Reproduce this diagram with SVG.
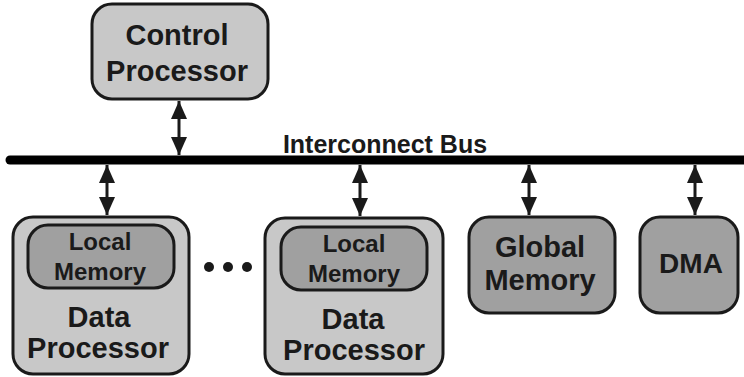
<svg xmlns="http://www.w3.org/2000/svg" width="744" height="377" viewBox="0 0 744 377">
<defs>
<marker id="ah" viewBox="0 0 18 16" refX="18" refY="8" markerWidth="18" markerHeight="16" markerUnits="userSpaceOnUse" orient="auto-start-reverse">
<path d="M0,0 L18,8 L0,16 Z" fill="#1a1a1a"/>
</marker>
</defs>
<style>
.lt{fill:#c8c8c8;stroke:#1a1a1a;stroke-width:3}
.dk{fill:#a0a0a0;stroke:#1a1a1a;stroke-width:3}
.ar{stroke:#1a1a1a;stroke-width:3;fill:none;marker-start:url(#ah);marker-end:url(#ah)}
</style>
<g id="connectors">
<line x1="10" y1="160" x2="744" y2="160" stroke="#000" stroke-width="9" stroke-linecap="round"/>
<line class="ar" x1="179" y1="101" x2="179" y2="155"/>
<line class="ar" x1="107" y1="165" x2="107" y2="215"/>
<line class="ar" x1="360" y1="165" x2="360" y2="216"/>
<line class="ar" x1="529" y1="165" x2="529" y2="215"/>
<line class="ar" x1="695" y1="165" x2="695" y2="215"/>
</g>
<g font-family="'Liberation Sans', Arial, sans-serif" font-weight="bold" fill="#1a1a1a" text-anchor="middle">
<g id="bus-label"><text x="385" y="153" font-size="25">Interconnect Bus</text></g>
<g id="control-processor">
<rect class="lt" x="92" y="4" width="176" height="95" rx="20"/>
<text font-size="29" x="177" y="45">Control</text>
<text font-size="29" x="177" y="81">Processor</text>
</g>
<g id="data-processor-1">
<rect class="lt" x="13" y="217" width="176" height="157" rx="20"/>
<rect class="dk" x="28" y="225" width="146" height="63" rx="20"/>
<text font-size="24" x="100" y="250">Local</text>
<text font-size="24" x="100" y="280">Memory</text>
<text font-size="29" x="99" y="327">Data</text>
<text font-size="29" x="98" y="358">Processor</text>
</g>
<g id="ellipsis">
<circle cx="209" cy="267" r="5" fill="#1a1a1a"/>
<circle cx="228" cy="267" r="5" fill="#1a1a1a"/>
<circle cx="247" cy="267" r="5" fill="#1a1a1a"/>
</g>
<g id="data-processor-2">
<rect class="lt" x="265" y="218" width="178" height="156" rx="20"/>
<rect class="dk" x="281" y="227" width="146" height="63" rx="20"/>
<text font-size="24" x="354" y="252">Local</text>
<text font-size="24" x="354" y="282">Memory</text>
<text font-size="29" x="353" y="329">Data</text>
<text font-size="29" x="354" y="360">Processor</text>
</g>
<g id="global-memory">
<rect class="dk" x="469" y="217" width="146" height="96" rx="20"/>
<text font-size="29" x="540" y="257">Global</text>
<text font-size="29" x="540" y="290">Memory</text>
</g>
<g id="dma">
<rect class="dk" x="640" y="217" width="98" height="96" rx="20"/>
<text font-size="28" x="691" y="273">DMA</text>
</g>
</g>
</svg>
